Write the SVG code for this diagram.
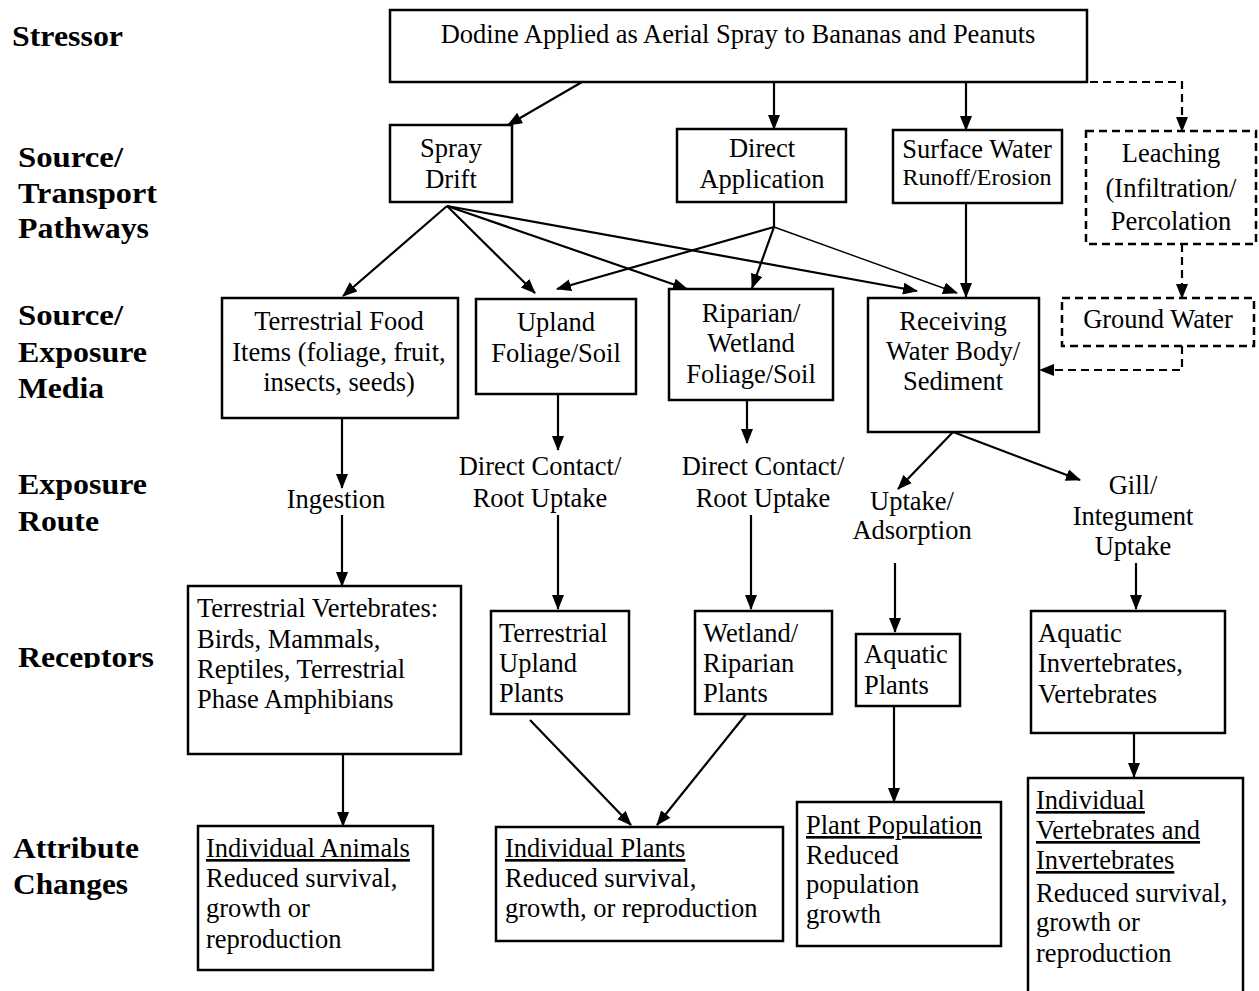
<svg xmlns="http://www.w3.org/2000/svg" width="1259" height="991" viewBox="0 0 1259 991">
<style>
.bx{fill:#fff;stroke:#000;stroke-width:2.5}
.dbx{fill:#fff;stroke:#000;stroke-width:2.5;stroke-dasharray:8 5}
.t{font-family:"Liberation Serif","Times New Roman",serif;font-size:26.5px;fill:#000}
.c{text-anchor:middle}
.s{font-size:24px}
.u{text-decoration:underline}
.h{font-family:"Liberation Serif","Times New Roman",serif;font-size:29px;font-weight:bold;fill:#000}
.ln{fill:none;stroke:#000;stroke-width:2.2}
.thin{fill:none;stroke:#000;stroke-width:1.4}
.dl{fill:none;stroke:#000;stroke-width:2.2;stroke-dasharray:8 5}
</style>
<defs>
<marker id="ah" markerUnits="userSpaceOnUse" markerWidth="15" markerHeight="12" refX="14" refY="6" orient="auto">
<path d="M0,0 L15,6 L0,12 z" fill="#000"/>
</marker>
<clipPath id="rc"><rect x="0" y="600" width="200" height="68"/></clipPath>
</defs>

<g id="labels">
<text class="h" x="12" y="46" textLength="111" lengthAdjust="spacingAndGlyphs">Stressor</text>
<text class="h" x="18" y="167" textLength="105" lengthAdjust="spacingAndGlyphs">Source/</text>
<text class="h" x="18" y="203" textLength="139" lengthAdjust="spacingAndGlyphs">Transport</text>
<text class="h" x="18" y="238" textLength="131" lengthAdjust="spacingAndGlyphs">Pathways</text>
<text class="h" x="18" y="325" textLength="105" lengthAdjust="spacingAndGlyphs">Source/</text>
<text class="h" x="18" y="362" textLength="129" lengthAdjust="spacingAndGlyphs">Exposure</text>
<text class="h" x="18" y="398" textLength="86" lengthAdjust="spacingAndGlyphs">Media</text>
<text class="h" x="18" y="494" textLength="129" lengthAdjust="spacingAndGlyphs">Exposure</text>
<text class="h" x="18" y="531" textLength="81" lengthAdjust="spacingAndGlyphs">Route</text>
<text class="h" x="18" y="667" textLength="136" lengthAdjust="spacingAndGlyphs" clip-path="url(#rc)">Receptors</text>
<text class="h" x="13" y="858" textLength="126" lengthAdjust="spacingAndGlyphs">Attribute</text>
<text class="h" x="13" y="894" textLength="115" lengthAdjust="spacingAndGlyphs">Changes</text>
</g>

<g id="connectors">
<line class="ln" x1="582" y1="82" x2="508" y2="125" marker-end="url(#ah)"/>
<line class="ln" x1="774" y1="82" x2="774" y2="129" marker-end="url(#ah)"/>
<line class="ln" x1="966" y1="82" x2="966" y2="130" marker-end="url(#ah)"/>
<polyline class="dl" points="1090,82 1182,82 1182,131" marker-end="url(#ah)"/>
<line class="ln" x1="447" y1="206" x2="343" y2="296" marker-end="url(#ah)"/>
<line class="ln" x1="447" y1="206" x2="535" y2="293" marker-end="url(#ah)"/>
<line class="ln" x1="447" y1="206" x2="687" y2="289" marker-end="url(#ah)"/>
<line class="ln" x1="447" y1="206" x2="917" y2="291" marker-end="url(#ah)"/>
<line class="ln" x1="774" y1="202" x2="774" y2="227"/>
<line class="ln" x1="774" y1="227" x2="557" y2="289" marker-end="url(#ah)"/>
<line class="ln" x1="774" y1="227" x2="752" y2="288" marker-end="url(#ah)"/>
<line class="thin" x1="774" y1="227" x2="957" y2="293" marker-end="url(#ah)"/>
<line class="ln" x1="966" y1="203" x2="966" y2="297" marker-end="url(#ah)"/>
<line class="dl" x1="1182" y1="244" x2="1182" y2="298" marker-end="url(#ah)"/>
<polyline class="dl" points="1182,346 1182,370 1040,370" marker-end="url(#ah)"/>
<line class="ln" x1="342" y1="418" x2="342" y2="488" marker-end="url(#ah)"/>
<line class="ln" x1="342" y1="515" x2="342" y2="586" marker-end="url(#ah)"/>
<line class="ln" x1="558" y1="394" x2="558" y2="450" marker-end="url(#ah)"/>
<line class="ln" x1="558" y1="515" x2="558" y2="609" marker-end="url(#ah)"/>
<line class="ln" x1="747" y1="400" x2="747" y2="443" marker-end="url(#ah)"/>
<line class="ln" x1="751" y1="515" x2="751" y2="609" marker-end="url(#ah)"/>
<line class="ln" x1="953" y1="432" x2="898" y2="489" marker-end="url(#ah)"/>
<line class="ln" x1="953" y1="432" x2="1080" y2="480" marker-end="url(#ah)"/>
<line class="ln" x1="895" y1="563" x2="895" y2="632" marker-end="url(#ah)"/>
<line class="ln" x1="1136" y1="563" x2="1136" y2="609" marker-end="url(#ah)"/>
<line class="ln" x1="343" y1="754" x2="343" y2="826" marker-end="url(#ah)"/>
<line class="ln" x1="530" y1="720" x2="631" y2="825" marker-end="url(#ah)"/>
<line class="ln" x1="751" y1="708" x2="657" y2="825" marker-end="url(#ah)"/>
<line class="ln" x1="894" y1="706" x2="894" y2="802" marker-end="url(#ah)"/>
<line class="ln" x1="1134" y1="733" x2="1134" y2="777" marker-end="url(#ah)"/>
</g>

<g id="stressor">
<rect class="bx" x="390" y="10" width="697" height="72"/>
<text class="t c" x="738" y="43">Dodine Applied as Aerial Spray to Bananas and Peanuts</text>
</g>
<g id="spray-drift">
<rect class="bx" x="390" y="125" width="122" height="77"/>
<text class="t c" x="451" y="157">Spray</text>
<text class="t c" x="451" y="188">Drift</text>
</g>
<g id="direct-application">
<rect class="bx" x="677" y="129" width="169" height="73"/>
<text class="t c" x="762" y="157">Direct</text>
<text class="t c" x="762" y="188">Application</text>
</g>
<g id="surface-water">
<rect class="bx" x="893" y="130" width="169" height="73"/>
<text class="t c" x="977" y="158">Surface Water</text>
<text class="t c s" x="977" y="185">Runoff/Erosion</text>
</g>
<g id="leaching">
<rect class="dbx" x="1086" y="131" width="170" height="113"/>
<text class="t c" x="1171" y="162">Leaching</text>
<text class="t c" x="1171" y="197">(Infiltration/</text>
<text class="t c" x="1171" y="230">Percolation</text>
</g>
<g id="terrestrial-food">
<rect class="bx" x="222" y="298" width="236" height="120"/>
<text class="t c" x="339" y="330">Terrestrial Food</text>
<text class="t c" x="339" y="361">Items (foliage, fruit,</text>
<text class="t c" x="339" y="391">insects, seeds)</text>
</g>
<g id="upland">
<rect class="bx" x="476" y="299" width="160" height="95"/>
<text class="t c" x="556" y="331">Upland</text>
<text class="t c" x="556" y="362">Foliage/Soil</text>
</g>
<g id="riparian">
<rect class="bx" x="669" y="289" width="164" height="111"/>
<text class="t c" x="751" y="322">Riparian/</text>
<text class="t c" x="751" y="352">Wetland</text>
<text class="t c" x="751" y="383">Foliage/Soil</text>
</g>
<g id="receiving">
<rect class="bx" x="868" y="298" width="171" height="134"/>
<text class="t c" x="953" y="330">Receiving</text>
<text class="t c" x="953" y="360">Water Body/</text>
<text class="t c" x="953" y="390">Sediment</text>
</g>
<g id="ground-water">
<rect class="dbx" x="1062" y="298" width="192" height="48"/>
<text class="t c" x="1158" y="328">Ground Water</text>
</g>
<g id="ingestion">
<text class="t c" x="336" y="508">Ingestion</text>
</g>
<g id="contact-upland">
<text class="t c" x="540" y="475">Direct Contact/</text>
<text class="t c" x="540" y="507">Root Uptake</text>
</g>
<g id="contact-riparian">
<text class="t c" x="763" y="475">Direct Contact/</text>
<text class="t c" x="763" y="507">Root Uptake</text>
</g>
<g id="uptake-adsorption">
<text class="t c" x="912" y="510">Uptake/</text>
<text class="t c" x="912" y="539">Adsorption</text>
</g>
<g id="gill">
<text class="t c" x="1133" y="494">Gill/</text>
<text class="t c" x="1133" y="525">Integument</text>
<text class="t c" x="1133" y="555">Uptake</text>
</g>
<g id="terrestrial-vertebrates">
<rect class="bx" x="188" y="586" width="273" height="168"/>
<text class="t" x="197" y="617">Terrestrial Vertebrates:</text>
<text class="t" x="197" y="648">Birds, Mammals,</text>
<text class="t" x="197" y="678">Reptiles, Terrestrial</text>
<text class="t" x="197" y="708">Phase Amphibians</text>
</g>
<g id="terrestrial-upland-plants">
<rect class="bx" x="491" y="611" width="138" height="103"/>
<text class="t" x="499" y="642">Terrestrial</text>
<text class="t" x="499" y="672">Upland</text>
<text class="t" x="499" y="702">Plants</text>
</g>
<g id="wetland-plants">
<rect class="bx" x="695" y="611" width="137" height="103"/>
<text class="t" x="703" y="642">Wetland/</text>
<text class="t" x="703" y="672">Riparian</text>
<text class="t" x="703" y="702">Plants</text>
</g>
<g id="aquatic-plants">
<rect class="bx" x="856" y="634" width="104" height="72"/>
<text class="t" x="864" y="663">Aquatic</text>
<text class="t" x="864" y="694">Plants</text>
</g>
<g id="aquatic-invertebrates">
<rect class="bx" x="1031" y="611" width="194" height="122"/>
<text class="t" x="1038" y="642">Aquatic</text>
<text class="t" x="1038" y="672">Invertebrates,</text>
<text class="t" x="1038" y="703">Vertebrates</text>
</g>
<g id="individual-animals">
<rect class="bx" x="198" y="826" width="235" height="144"/>
<text class="t u" x="206" y="857">Individual Animals</text>
<text class="t" x="206" y="887">Reduced survival,</text>
<text class="t" x="206" y="917">growth or</text>
<text class="t" x="206" y="948">reproduction</text>
</g>
<g id="individual-plants">
<rect class="bx" x="496" y="827" width="287" height="114"/>
<text class="t u" x="505" y="857">Individual Plants</text>
<text class="t" x="505" y="887">Reduced survival,</text>
<text class="t" x="505" y="917">growth, or reproduction</text>
</g>
<g id="plant-population">
<rect class="bx" x="797" y="802" width="204" height="144"/>
<text class="t u" x="806" y="834">Plant Population</text>
<text class="t" x="806" y="864">Reduced</text>
<text class="t" x="806" y="893">population</text>
<text class="t" x="806" y="923">growth</text>
</g>
<g id="individual-vertebrates">
<rect class="bx" x="1028" y="778" width="215" height="220"/>
<text class="t u" x="1036" y="809">Individual</text>
<text class="t u" x="1036" y="839">Vertebrates and</text>
<text class="t u" x="1036" y="869">Invertebrates</text>
<text class="t" x="1036" y="902">Reduced survival,</text>
<text class="t" x="1036" y="931">growth or</text>
<text class="t" x="1036" y="962">reproduction</text>
</g>
</svg>
